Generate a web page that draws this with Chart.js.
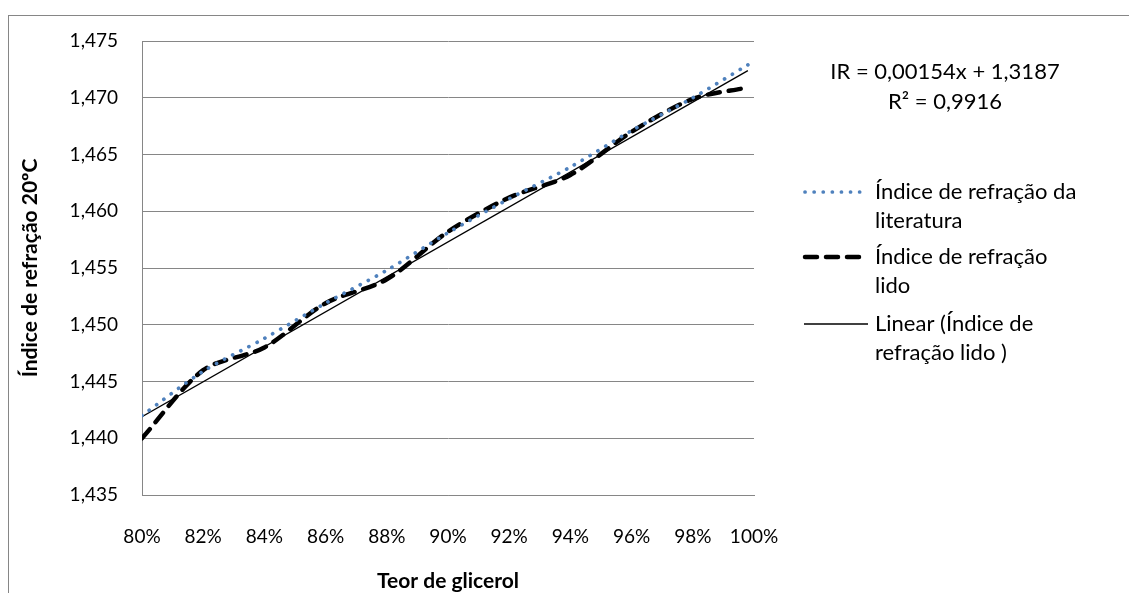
<!DOCTYPE html>
<html>
<head>
<meta charset="utf-8">
<script src="https://cdn.jsdelivr.net/npm/chart.js@4/dist/chart.umd.min.js"></script>
<style>
  html, body { margin: 0; padding: 0; background: #ffffff; }
  #wrap { position: relative; width: 1129px; height: 593px; }
</style>
</head>
<body>
<div id="wrap"><canvas id="c" width="1129" height="593"></canvas></div>
<script>
// Glycerol content (%) and refractive index at 20 ºC
const glycerolPct    = [80, 82, 84, 86, 88, 90, 92, 94, 96, 98, 99.8];
const riLiterature   = [1.4420, 1.4459, 1.4488, 1.4519, 1.4548, 1.4581, 1.4611, 1.4639, 1.4671, 1.4700, 1.4729];
const riMeasured     = [1.4400, 1.4460, 1.4480, 1.4519, 1.4540, 1.4582, 1.4612, 1.4632, 1.4670, 1.4699, 1.4709];

// Linear fit of the measured index: IR = a·x + b
const fitSlope = 0.00154;
const fitIntercept = 1.3187;
const fitR2 = 0.9916;

// Axis ticks
const xTicks = [80, 82, 84, 86, 88, 90, 92, 94, 96, 98, 100];
const yTicks = [1.435, 1.440, 1.445, 1.450, 1.455, 1.460, 1.465, 1.470, 1.475];

// Texts
const xTitle = 'Teor de glicerol';
const yTitle = 'Índice de refração 20ºC';
const legendLines = [
  ['Índice de refração da', 'literatura'],
  ['Índice de refração', 'lido'],
  ['Linear (Índice de', 'refração lido )']
];

const FONT = 'Lato, "Liberation Sans", sans-serif';
const GRID = '#868686';
const BLUE = '#4F81BD';

const fmtComma = (v, d) => v.toFixed(d).replace('.', ',');

const pts = (xs, ys) => xs.map((x, i) => ({ x, y: ys[i] }));
const xFirst = glycerolPct[0];
const xLast = glycerolPct[glycerolPct.length - 1];
const fitPts = [xFirst, xLast].map(x => ({ x, y: fitSlope * x + fitIntercept }));

const styleLit = { borderColor: BLUE, borderWidth: 3.7, borderDash: [0.1, 9], borderCapStyle: 'round' };
const styleMeas = { borderColor: '#000000', borderWidth: 4.5, borderDash: [12, 9], borderCapStyle: 'round' };
const styleFit = { borderColor: '#000000', borderWidth: 1.3, borderDash: [], borderCapStyle: 'butt' };

// Frame, trend equation and legend on the right
const decorations = {
  id: 'decorations',
  afterDraw(chart) {
    const ctx = chart.ctx;
    ctx.save();
    ctx.strokeStyle = GRID;
    ctx.lineWidth = 1;
    ctx.strokeRect(8.5, 15.5, 1300, 800);

    ctx.fillStyle = '#000';
    ctx.font = '22px ' + FONT;
    ctx.textAlign = 'center';
    ctx.textBaseline = 'middle';
    ctx.fillText('IR = ' + fmtComma(fitSlope, 5) + 'x + ' + fmtComma(fitIntercept, 4), 945, 72);
    ctx.fillText('R² = ' + fmtComma(fitR2, 4), 945, 102);

    const styles = [styleLit, styleMeas, styleFit];
    const rows = [192, 257, 324];
    const lineGap = 29;
    styles.forEach((s, i) => {
      const y = rows[i];
      ctx.save();
      ctx.strokeStyle = s.borderColor;
      ctx.lineWidth = s.borderWidth;
      ctx.setLineDash(s.borderDash);
      ctx.lineCap = s.borderCapStyle;
      ctx.beginPath();
      ctx.moveTo(i === 2 ? 804 : 805, y);
      ctx.lineTo(i === 2 ? 868 : 860, y);
      ctx.stroke();
      ctx.restore();
      ctx.textAlign = 'left';
      legendLines[i].forEach((t, k) => ctx.fillText(t, 875, y + k * lineGap));
    });
    ctx.restore();
  }
};

new Chart(document.getElementById('c'), {
  type: 'scatter',
  data: {
    datasets: [
      { label: legendLines[0].join(' '), data: pts(glycerolPct, riLiterature), showLine: true, pointRadius: 0, tension: 0.3, ...styleLit },
      { label: legendLines[1].join(' '), data: pts(glycerolPct, riMeasured), showLine: true, pointRadius: 0, tension: 0.3, ...styleMeas },
      { label: legendLines[2].join(' '), data: fitPts, showLine: true, pointRadius: 0, tension: 0, ...styleFit }
    ]
  },
  options: {
    responsive: false,
    animation: false,
    devicePixelRatio: 1,
    layout: { padding: { left: 0, top: 41, right: 375, bottom: 0 } },
    plugins: { legend: { display: false }, tooltip: { enabled: false } },
    scales: {
      x: {
        type: 'linear',
        min: 80, max: 100,
        afterBuildTicks: s => { s.ticks = xTicks.map(v => ({ value: v })); },
        afterFit: s => { s.height = 98; },
        grid: { display: false, drawTicks: false },
        border: { color: GRID, width: 1 },
        ticks: { color: '#000', font: { family: FONT, size: 19 }, padding: 30, maxRotation: 0, callback: v => v + '%' },
        title: { display: true, text: xTitle, color: '#000', font: { family: FONT, size: 21, weight: 'bold' }, padding: { top: 0, bottom: -1 } }
      },
      y: {
        type: 'linear',
        min: 1.435, max: 1.475,
        afterBuildTicks: s => { s.ticks = yTicks.map(v => ({ value: v })); },
        afterFit: s => { s.width = 142; },
        grid: { color: GRID, lineWidth: 1, drawTicks: false },
        border: { color: GRID, width: 1 },
        ticks: { color: '#000', font: { family: FONT, size: 19 }, padding: 24, callback: v => fmtComma(v, 3) },
        title: { display: true, text: yTitle, color: '#000', font: { family: FONT, size: 21, weight: 'bold' }, padding: { top: 18, bottom: 0 } }
      }
    }
  },
  plugins: [decorations]
});
</script>
</body>
</html>
